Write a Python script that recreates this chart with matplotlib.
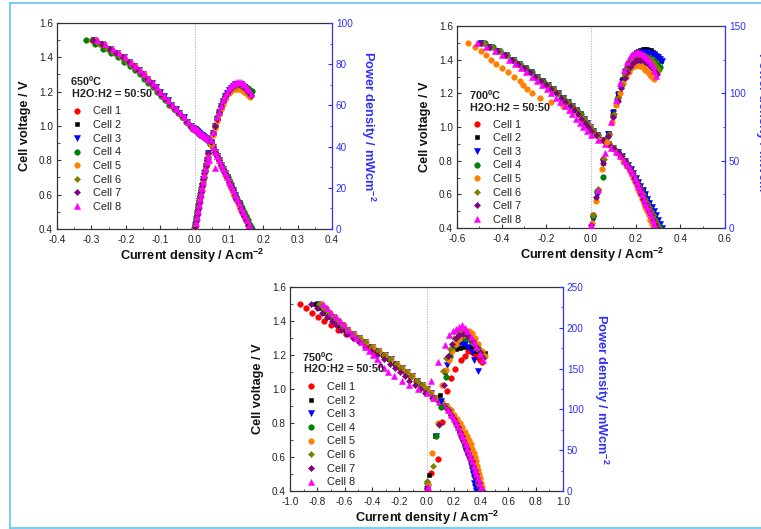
import matplotlib
matplotlib.use("Agg")
import matplotlib.pyplot as plt
from matplotlib.lines import Line2D
from matplotlib.ticker import MultipleLocator, FormatStrFormatter

plt.rcParams['font.family'] = ['Liberation Sans', 'DejaVu Sans']
plt.rcParams['axes.unicode_minus'] = False
plt.rcParams['mathtext.fontset'] = 'custom'
plt.rcParams['mathtext.rm'] = 'Liberation Sans'
plt.rcParams['mathtext.bf'] = 'Liberation Sans:bold'

# --- data -------------------------------------------------------------------
cells = ['Cell 1', 'Cell 2', 'Cell 3', 'Cell 4', 'Cell 5', 'Cell 6', 'Cell 7', 'Cell 8']

# 650 C : voltage sweep (V) and current density (A/cm2) per cell
volt_650 = [1.500, 1.475, 1.450, 1.425, 1.400, 1.375, 1.350, 1.325, 1.300, 1.275,
            1.250, 1.225, 1.200, 1.175, 1.150, 1.125, 1.100, 1.075, 1.050, 1.025,
            1.000, 0.990, 0.985, 0.980, 0.975, 0.970, 0.965, 0.960, 0.955, 0.950,
            0.945, 0.940, 0.935, 0.930, 0.925, 0.920, 0.900, 0.875, 0.850, 0.825,
            0.800, 0.775, 0.750, 0.725, 0.700, 0.675, 0.650, 0.625, 0.600, 0.575,
            0.550, 0.525, 0.500, 0.475, 0.450, 0.425, 0.400]

cur_650 = [
    [-0.298, -0.273, -0.250, -0.229, -0.210, -0.194, -0.179, -0.165, -0.151, -0.139,
     -0.127, -0.115, -0.103, -0.091, -0.080, -0.068, -0.057, -0.045, -0.034, -0.022,
     -0.011, -0.006, -0.002, 0.002, 0.005, 0.008, 0.011, 0.014, 0.017, 0.020,
     0.023, 0.026, 0.030, 0.033, 0.037, 0.040, 0.047, 0.053, 0.059, 0.065,
     0.071, 0.077, 0.083, 0.088, 0.094, 0.099, 0.105, 0.111, 0.116, 0.122,
     0.128, 0.133, 0.139, 0.145, 0.150, 0.156, 0.162],
    [-0.296, -0.271, -0.248, -0.228, -0.209, -0.193, -0.178, -0.164, -0.151, -0.139,
     -0.126, -0.114, -0.102, -0.091, -0.079, -0.068, -0.056, -0.045, -0.033, -0.022,
     -0.011, -0.006, -0.002, 0.001, 0.004, 0.007, 0.010, 0.013, 0.016, 0.019,
     0.022, 0.026, 0.029, 0.033, 0.036, 0.040, 0.047, 0.053, 0.059, 0.065,
     0.071, 0.077, 0.083, 0.089, 0.094, 0.100, 0.105, 0.111, 0.117, 0.122,
     0.128, 0.134, 0.140, 0.146, 0.152, 0.158, 0.164],
    [-0.293, -0.268, -0.245, -0.225, -0.206, -0.190, -0.175, -0.162, -0.149, -0.137,
     -0.125, -0.113, -0.101, -0.090, -0.078, -0.067, -0.055, -0.044, -0.032, -0.021,
     -0.010, -0.005, -0.001, 0.002, 0.005, 0.008, 0.011, 0.014, 0.017, 0.020,
     0.022, 0.026, 0.029, 0.033, 0.036, 0.040, 0.047, 0.053, 0.059, 0.065,
     0.071, 0.077, 0.083, 0.089, 0.094, 0.100, 0.105, 0.111, 0.117, 0.122,
     0.128, 0.134, 0.139, 0.145, 0.151, 0.157, 0.163],
    [-0.315, -0.290, -0.266, -0.244, -0.222, -0.205, -0.189, -0.174, -0.160, -0.147,
     -0.134, -0.121, -0.109, -0.097, -0.085, -0.073, -0.061, -0.049, -0.037, -0.025,
     -0.013, -0.008, -0.004, -0.001, 0.002, 0.005, 0.008, 0.011, 0.014, 0.017,
     0.020, 0.024, 0.027, 0.031, 0.034, 0.038, 0.046, 0.053, 0.059, 0.066,
     0.072, 0.078, 0.084, 0.090, 0.096, 0.102, 0.107, 0.113, 0.119, 0.125,
     0.131, 0.137, 0.143, 0.149, 0.155, 0.161, 0.168],
    [-0.288, -0.264, -0.242, -0.222, -0.204, -0.189, -0.174, -0.161, -0.148, -0.136,
     -0.126, -0.114, -0.102, -0.091, -0.079, -0.068, -0.056, -0.045, -0.033, -0.022,
     -0.011, -0.006, -0.002, 0.001, 0.004, 0.007, 0.010, 0.013, 0.016, 0.019,
     0.022, 0.026, 0.029, 0.033, 0.036, 0.040, 0.047, 0.053, 0.059, 0.065,
     0.070, 0.076, 0.082, 0.088, 0.093, 0.099, 0.104, 0.110, 0.115, 0.121,
     0.126, 0.132, 0.137, 0.143, 0.149, 0.155, 0.161],
    [-0.302, -0.277, -0.254, -0.233, -0.213, -0.197, -0.182, -0.168, -0.154, -0.142,
     -0.129, -0.117, -0.105, -0.093, -0.081, -0.070, -0.058, -0.046, -0.034, -0.023,
     -0.011, -0.006, -0.002, 0.001, 0.004, 0.007, 0.010, 0.013, 0.016, 0.019,
     0.022, 0.026, 0.029, 0.033, 0.036, 0.040, 0.047, 0.053, 0.059, 0.065,
     0.071, 0.077, 0.083, 0.089, 0.094, 0.100, 0.105, 0.111, 0.117, 0.122,
     0.128, 0.134, 0.139, 0.145, 0.151, 0.157, 0.163],
    [-0.295, -0.270, -0.247, -0.227, -0.208, -0.192, -0.177, -0.163, -0.150, -0.138,
     -0.126, -0.114, -0.102, -0.091, -0.079, -0.068, -0.056, -0.045, -0.033, -0.022,
     -0.011, -0.006, -0.002, 0.001, 0.004, 0.007, 0.010, 0.013, 0.016, 0.019,
     0.022, 0.026, 0.029, 0.033, 0.036, 0.040, 0.047, 0.053, 0.059, 0.065,
     0.071, 0.077, 0.083, 0.089, 0.094, 0.100, 0.105, 0.111, 0.117, 0.122,
     0.128, 0.134, 0.139, 0.145, 0.151, 0.157, 0.163],
    [-0.284, -0.260, -0.238, -0.219, -0.201, -0.186, -0.172, -0.159, -0.146, -0.134,
     -0.122, -0.110, -0.099, -0.088, -0.076, -0.065, -0.053, -0.042, -0.030, -0.019,
     -0.008, -0.003, 0.001, 0.003, 0.006, 0.009, 0.012, 0.015, 0.018, 0.021,
     0.024, 0.028, 0.031, 0.035, 0.038, 0.042, 0.048, 0.054, 0.060, 0.066,
     0.071, 0.077, 0.083, 0.089, 0.095, 0.101, 0.106, 0.112, 0.118, 0.124,
     0.129, 0.135, 0.141, 0.147, 0.152, 0.158, 0.164],
]

# power density (mW/cm2) of the last points of each sweep
pow_650 = [
    [2.0, 4.9, 7.8, 10.6, 13.4, 16.2, 19.0,
     21.7, 24.4, 28.1, 30.7, 34.2, 36.8, 42.3, 46.4, 50.2, 53.6,
     56.8, 59.7, 62.3, 63.8, 65.8, 66.8, 68.3, 69.4, 69.6, 70.2,
     70.4, 69.8, 69.5, 68.9, 67.5, 66.3, 64.8],
    [1.0, 3.9, 6.8, 9.7, 12.5, 15.3, 18.1,
     20.8, 24.4, 27.1, 30.7, 33.3, 36.8, 42.3, 46.4, 50.2, 53.6,
     56.8, 59.7, 62.3, 64.5, 65.8, 67.5, 68.3, 69.4, 70.2, 70.2,
     70.4, 70.4, 70.0, 69.4, 68.4, 67.2, 65.6],
    [2.0, 4.9, 7.8, 10.6, 13.4, 16.2, 19.0,
     20.8, 24.4, 27.1, 30.7, 33.3, 36.8, 42.3, 46.4, 50.2, 53.6,
     56.8, 59.7, 62.3, 64.5, 65.8, 67.5, 68.3, 69.4, 70.2, 70.2,
     70.4, 70.4, 69.5, 68.9, 68.0, 66.7, 65.2],
    [0.5, 2.0, 4.9, 7.7, 10.6, 13.4, 16.2,
     18.9, 22.6, 25.2, 28.8, 31.5, 35.0, 41.4, 46.4, 50.2, 54.5,
     57.0, 59.8, 62.3, 64.5, 66.2, 67.6, 68.4, 69.2, 69.7, 70.0,
     70.1, 70.0, 69.6, 69.0, 68.3, 67.6, 67.0],
    [1.0, 3.9, 6.8, 9.6, 12.4, 15.1, 17.9,
     20.6, 24.0, 26.8, 30.2, 32.9, 36.3, 41.5, 45.5, 49.2, 52.5,
     55.6, 58.4, 60.9, 63.0, 64.4, 65.8, 66.7, 67.4, 67.9, 68.1,
     68.1, 67.9, 67.4, 66.7, 65.8, 64.9, 64.0],
    [1.0, 3.9, 6.8, 9.7, 12.5, 15.3, 18.1,
     20.8, 24.4, 27.1, 30.7, 33.3, 36.8, 42.3, 46.4, 50.2, 53.6,
     56.5, 59.4, 61.9, 64.0, 65.4, 66.9, 67.8, 68.8, 69.4, 69.6,
     69.7, 69.6, 69.0, 68.4, 67.4, 66.2, 64.8],
    [1.0, 3.9, 6.8, 9.7, 12.5, 15.3, 18.1,
     20.8, 24.4, 27.1, 30.7, 33.3, 36.8, 42.3, 46.4, 50.2, 53.6,
     56.8, 59.7, 62.3, 64.5, 65.8, 67.5, 68.3, 69.4, 70.2, 70.2,
     70.4, 70.4, 69.5, 68.9, 68.0, 66.7, 65.2],
    [2.9, 5.9, 8.7, 11.6, 14.4, 17.2, 20.0,
     22.7, 26.3, 29.0, 32.6, 35.2, 33.5, 43.2, 47.3, 29.5, 54.5,
     57.0, 59.8, 62.4, 64.8, 66.6, 68.4, 69.2, 70.3, 71.0, 71.4,
     71.5, 71.3, 70.6, 69.9, 68.5, 67.3, 65.6],
]

# 700 C
volt_700 = [1.500, 1.475, 1.450, 1.425, 1.400, 1.375, 1.350, 1.325, 1.300, 1.275,
            1.250, 1.225, 1.200, 1.175, 1.150, 1.125, 1.100, 1.075, 1.050, 1.025,
            1.000, 0.975, 0.950, 0.925, 0.900, 0.875, 0.850, 0.825, 0.800, 0.775,
            0.750, 0.725, 0.700, 0.675, 0.650, 0.625, 0.600, 0.575, 0.550, 0.525,
            0.500, 0.475, 0.450, 0.425, 0.400]

cur_700 = [
    [-0.490, -0.452, -0.415, -0.381, -0.350, -0.322, -0.295, -0.268, -0.242, -0.217,
     -0.193, -0.170, -0.147, -0.125, -0.104, -0.084, -0.065, -0.048, -0.032, -0.017,
     -0.003, 0.010, 0.030, 0.055, 0.079, 0.100, 0.119, 0.136, 0.150, 0.162,
     0.173, 0.184, 0.194, 0.203, 0.211, 0.219, 0.227, 0.235, 0.243, 0.251,
     0.260, 0.269, 0.278, 0.289, 0.300],
    [-0.500, -0.460, -0.422, -0.386, -0.354, -0.325, -0.298, -0.271, -0.245, -0.220,
     -0.196, -0.172, -0.149, -0.127, -0.106, -0.086, -0.067, -0.050, -0.034, -0.019,
     -0.005, 0.008, 0.022, 0.052, 0.078, 0.100, 0.120, 0.138, 0.153, 0.166,
     0.178, 0.190, 0.201, 0.211, 0.221, 0.231, 0.241, 0.251, 0.260, 0.269,
     0.278, 0.287, 0.296, 0.305, 0.314],
    [-0.492, -0.453, -0.416, -0.382, -0.351, -0.323, -0.296, -0.269, -0.243, -0.218,
     -0.194, -0.170, -0.147, -0.125, -0.104, -0.084, -0.065, -0.048, -0.032, -0.017,
     -0.004, 0.007, 0.026, 0.053, 0.078, 0.099, 0.119, 0.137, 0.152, 0.165,
     0.177, 0.189, 0.200, 0.210, 0.220, 0.231, 0.241, 0.251, 0.261, 0.271,
     0.281, 0.291, 0.300, 0.308, 0.316],
    [-0.474, -0.440, -0.406, -0.374, -0.345, -0.318, -0.292, -0.266, -0.240, -0.216,
     -0.192, -0.169, -0.146, -0.124, -0.103, -0.083, -0.064, -0.047, -0.031, -0.017,
     -0.003, 0.009, 0.029, 0.052, 0.078, 0.099, 0.118, 0.135, 0.150, 0.162,
     0.173, 0.184, 0.194, 0.203, 0.212, 0.221, 0.230, 0.239, 0.248, 0.257,
     0.266, 0.276, 0.286, 0.297, 0.308],
    [-0.549, -0.520, -0.492, -0.470, -0.449, -0.425, -0.400, -0.372, -0.345, -0.320,
     -0.303, -0.287, -0.262, -0.228, -0.178, -0.125, -0.085, -0.058, -0.038, -0.021,
     -0.006, 0.004, 0.022, 0.048, 0.072, 0.094, 0.113, 0.130, 0.145, 0.157,
     0.168, 0.178, 0.188, 0.196, 0.204, 0.212, 0.220, 0.228, 0.236, 0.244,
     0.252, 0.259, 0.266, 0.273, 0.280],
    [-0.480, -0.444, -0.409, -0.376, -0.347, -0.320, -0.294, -0.268, -0.242, -0.218,
     -0.194, -0.171, -0.148, -0.126, -0.105, -0.085, -0.066, -0.049, -0.033, -0.018,
     -0.004, 0.010, 0.031, 0.060, 0.082, 0.102, 0.121, 0.138, 0.152, 0.164,
     0.175, 0.186, 0.196, 0.205, 0.214, 0.223, 0.232, 0.241, 0.250, 0.259,
     0.268, 0.277, 0.286, 0.295, 0.305],
    [-0.498, -0.458, -0.420, -0.385, -0.354, -0.326, -0.300, -0.274, -0.249, -0.225,
     -0.202, -0.179, -0.157, -0.136, -0.115, -0.095, -0.076, -0.059, -0.043, -0.028,
     -0.013, 0.002, 0.024, 0.052, 0.078, 0.100, 0.119, 0.136, 0.150, 0.162,
     0.173, 0.184, 0.194, 0.202, 0.210, 0.218, 0.226, 0.234, 0.242, 0.250,
     0.258, 0.267, 0.276, 0.285, 0.295],
    [-0.512, -0.470, -0.432, -0.397, -0.367, -0.340, -0.314, -0.289, -0.265, -0.242,
     -0.220, -0.198, -0.177, -0.157, -0.137, -0.118, -0.100, -0.083, -0.067, -0.051,
     -0.035, -0.018, 0.002, 0.030, 0.062, 0.090, 0.112, 0.132, 0.148, 0.162,
     0.174, 0.185, 0.195, 0.204, 0.212, 0.220, 0.228, 0.236, 0.244, 0.252,
     0.260, 0.268, 0.276, 0.283, 0.290],
]

pow_700 = [
    [9.8, 28.5, 51.0, 70.0, 85.0, 97.5, 107.0, 114.0, 119.5, 123.0, 125.5, 127.0,
     128.0, 128.5, 129.0, 129.0, 128.5, 128.0, 127.0, 126.0, 124.5, 122.5, 120.0, 117.0],
    [7.8, 21.0, 48.0, 70.5, 87.0, 100.5, 110.5, 117.5, 122.5, 126.0, 128.5, 130.5,
     131.5, 132.5, 133.0, 133.0, 133.0, 132.5, 132.0, 131.0, 129.5, 128.0, 126.0, 124.0],
    [6.8, 24.7, 49.0, 70.0, 85.5, 99.0, 108.5, 116.0, 121.0, 124.5, 127.0, 128.5,
     129.5, 130.0, 130.5, 130.5, 130.5, 130.0, 129.5, 129.0, 128.0, 127.0, 125.5, 124.0],
    [8.8, 27.5, 38.0, 68.0, 83.0, 95.5, 105.5, 113.0, 118.0, 121.5, 124.0, 125.5,
     126.5, 127.5, 128.0, 128.0, 128.0, 127.5, 127.0, 126.0, 125.0, 123.5, 121.5, 119.5],
    [3.9, 20.0, 44.0, 64.0, 79.0, 91.0, 100.5, 107.5, 112.5, 116.0, 118.5, 120.0,
     120.5, 121.0, 121.0, 120.5, 120.0, 119.0, 117.5, 116.5, 115.0, 113.5, 112.0, 110.5],
    [9.8, 29.0, 51.5, 70.0, 84.5, 96.5, 106.0, 113.0, 118.0, 121.5, 124.0, 125.5,
     126.5, 127.0, 127.5, 127.5, 127.0, 126.5, 125.5, 124.5, 123.0, 121.0, 119.0, 117.0],
    [2.0, 22.8, 48.0, 68.0, 82.5, 94.5, 104.0, 111.5, 116.0, 119.5, 122.0, 123.5,
     124.5, 125.0, 125.0, 125.0, 124.5, 123.5, 122.5, 121.0, 119.5, 118.0, 116.0, 114.0],
    [2.0, 28.5, 56.0, 79.0, 95.0, 108.0, 117.0, 123.0, 127.0, 129.0, 130.0, 130.5,
     130.5, 130.0, 129.5, 128.5, 127.5, 126.0, 124.5, 122.5, 120.0, 116.5, 113.0],
]

# 750 C
volt_750 = volt_700

cur_750 = [
    [-0.925, -0.880, -0.840, -0.795, -0.750, -0.700, -0.645, -0.590, -0.530, -0.475,
     -0.420, -0.370, -0.322, -0.277, -0.234, -0.193, -0.155, -0.118, -0.080, -0.040,
     -0.008, 0.024, 0.060, 0.097, 0.134, 0.158, 0.179, 0.198, 0.215, 0.230,
     0.243, 0.256, 0.269, 0.281, 0.293, 0.305, 0.317, 0.329, 0.340, 0.350,
     0.360, 0.370, 0.380, 0.392, 0.408],
    [-0.820, -0.790, -0.755, -0.718, -0.680, -0.640, -0.598, -0.552, -0.505, -0.458,
     -0.410, -0.363, -0.316, -0.272, -0.230, -0.189, -0.151, -0.113, -0.074, -0.033,
     -0.002, 0.030, 0.070, 0.106, 0.140, 0.163, 0.182, 0.200, 0.217, 0.231,
     0.244, 0.257, 0.270, 0.282, 0.294, 0.306, 0.318, 0.330, 0.341, 0.351,
     0.361, 0.371, 0.381, 0.392, 0.410],
    [-0.795, -0.760, -0.724, -0.688, -0.654, -0.620, -0.584, -0.540, -0.494, -0.447,
     -0.400, -0.353, -0.306, -0.263, -0.221, -0.181, -0.144, -0.107, -0.070, -0.031,
     0.000, 0.030, 0.066, 0.102, 0.137, 0.160, 0.179, 0.196, 0.212, 0.226,
     0.238, 0.250, 0.262, 0.274, 0.285, 0.296, 0.307, 0.317, 0.326, 0.334,
     0.340, 0.346, 0.351, 0.356, 0.360],
    [-0.784, -0.752, -0.718, -0.684, -0.651, -0.617, -0.581, -0.538, -0.493, -0.447,
     -0.401, -0.355, -0.309, -0.266, -0.225, -0.184, -0.147, -0.110, -0.072, -0.033,
     -0.003, 0.028, 0.066, 0.103, 0.140, 0.164, 0.184, 0.202, 0.219, 0.233,
     0.246, 0.259, 0.272, 0.284, 0.296, 0.308, 0.320, 0.332, 0.343, 0.353,
     0.362, 0.371, 0.380, 0.391, 0.408],
    [-0.770, -0.738, -0.705, -0.672, -0.640, -0.607, -0.572, -0.530, -0.485, -0.440,
     -0.394, -0.348, -0.302, -0.259, -0.218, -0.178, -0.141, -0.104, -0.066, -0.027,
     0.003, 0.035, 0.075, 0.115, 0.150, 0.178, 0.202, 0.224, 0.244, 0.262,
     0.279, 0.296, 0.312, 0.325, 0.336, 0.346, 0.355, 0.364, 0.372, 0.379,
     0.386, 0.392, 0.398, 0.404, 0.410],
    [-0.790, -0.757, -0.722, -0.688, -0.655, -0.621, -0.585, -0.541, -0.496, -0.450,
     -0.403, -0.357, -0.310, -0.267, -0.225, -0.185, -0.148, -0.111, -0.073, -0.034,
     -0.004, 0.027, 0.065, 0.102, 0.139, 0.163, 0.183, 0.201, 0.218, 0.232,
     0.245, 0.258, 0.271, 0.283, 0.295, 0.307, 0.319, 0.331, 0.342, 0.352,
     0.361, 0.370, 0.379, 0.390, 0.407],
    [-0.845, -0.800, -0.765, -0.730, -0.695, -0.660, -0.625, -0.585, -0.540, -0.495,
     -0.450, -0.405, -0.360, -0.315, -0.270, -0.230, -0.195, -0.160, -0.125, -0.085,
     -0.050, -0.010, 0.040, 0.090, 0.130, 0.158, 0.180, 0.199, 0.216, 0.231,
     0.245, 0.258, 0.271, 0.283, 0.295, 0.307, 0.319, 0.331, 0.342, 0.352,
     0.362, 0.372, 0.382, 0.395, 0.415],
    [-0.760, -0.728, -0.697, -0.666, -0.636, -0.606, -0.576, -0.545, -0.514, -0.482,
     -0.450, -0.420, -0.392, -0.366, -0.340, -0.310, -0.280, -0.240, -0.180, -0.125,
     -0.060, 0.000, 0.045, 0.090, 0.130, 0.158, 0.181, 0.201, 0.219, 0.234,
     0.248, 0.261, 0.274, 0.286, 0.298, 0.310, 0.322, 0.334, 0.345, 0.355,
     0.365, 0.375, 0.385, 0.397, 0.415],
]

# at 750 C the power points were logged on their own current values
pcur_750 = [
    [0.004, 0.034, 0.083, 0.115, 0.150, 0.176, 0.212, 0.254, 0.280, 0.303, 0.330, 0.355, 0.375, 0.393, 0.410],
    [0.004, 0.017, 0.059, 0.100, 0.132, 0.181, 0.215, 0.242, 0.265, 0.285, 0.305, 0.325, 0.345, 0.364, 0.385, 0.405, 0.425],
    [0.004, 0.011, 0.067, 0.105, 0.149, 0.190, 0.210, 0.235, 0.260, 0.282, 0.305, 0.330, 0.350, 0.376],
    [0.006, 0.067, 0.107, 0.140, 0.170, 0.200, 0.225, 0.250, 0.275, 0.300, 0.325, 0.350, 0.375, 0.400, 0.415],
    [0.008, 0.039, 0.083, 0.112, 0.140, 0.163, 0.190, 0.215, 0.240, 0.265, 0.290, 0.310, 0.330, 0.355, 0.380, 0.405, 0.425],
    [0.006, 0.050, 0.090, 0.119, 0.145, 0.172, 0.200, 0.220, 0.240, 0.260, 0.285, 0.310, 0.335, 0.360, 0.385, 0.410],
    [0.003, 0.090, 0.125, 0.160, 0.190, 0.215, 0.240, 0.265, 0.290, 0.315, 0.340, 0.365, 0.390, 0.415],
    [0.010, 0.034, 0.083, 0.132, 0.168, 0.193, 0.215, 0.240, 0.261, 0.280, 0.300, 0.327, 0.350, 0.364, 0.390, 0.413],
]
pow_750 = [
    [3, 22, 39, 84, 122, 138, 150, 160, 166, 171, 170, 167, 164, 161, 158],
    [4, 20, 67, 118, 146, 172, 174, 175, 177, 178, 177, 176, 174, 172, 171, 170, 169],
    [2, 5, 67, 110, 154, 172, 178, 180, 181, 180, 177, 170, 160, 147],
    [10, 67, 103, 140, 165, 178, 184, 187, 188, 187, 184, 180, 175, 170, 167],
    [8, 47, 83, 130, 148, 160, 172, 180, 186, 191, 195, 196, 194, 188, 180, 172, 166],
    [12, 31, 81, 147, 163, 174, 188, 195, 197, 196, 193, 189, 184, 178, 172, 167],
    [4, 82, 130, 165, 180, 187, 191, 193, 192, 189, 184, 177, 170, 163],
    [5, 135, 158, 179, 191, 196, 199, 201, 203, 200, 196, 189, 182, 177, 168, 160],
]

# --- styling ----------------------------------------------------------------
colors = ['#ff0000', '#000000', '#0000ff', '#008000', '#ff8000', '#808000', '#800080', '#ff00ff']
markers = ['o', 's', 'v', 'o', 'o', 'D', 'D', '^']
msizes = [4.0, 3.4, 4.4, 4.0, 4.0, 3.1, 3.1, 4.4]
BLUE = '#2f2fff'
W, H = 761, 529

fig = plt.figure(figsize=(W / 100, H / 100), dpi=100)
fig.patch.set_facecolor('white')


def fx(x):
    return x / W


def fy(y):
    return 1 - y / H


def draw_panel(box, volt, cur, pw, pcur, xlim, xmaj, pmax, pmaj, temp, txt_xy, leg_xy, lab_xy):
    left, top, right, bottom = box
    ax = fig.add_axes([fx(left), fy(bottom), fx(right - left), (bottom - top) / H])
    ax2 = ax.twinx()

    ax.axvline(0, color='#b4b4b4', lw=0.8, ls=(0, (1, 1.3)), zorder=0)
    handles = []
    for k in range(8):
        h, = ax.plot(cur[k], volt, ls='none', marker=markers[k], ms=msizes[k],
                     color=colors[k], mec=colors[k], mew=0.4)
        handles.append(h)
        px = pcur[k] if pcur is not None else cur[k][-len(pw[k]):]
        ax2.plot(px, pw[k], ls='none', marker=markers[k], ms=msizes[k],
                 color=colors[k], mec=colors[k], mew=0.4)

    ax.set_xlim(*xlim)
    ax.set_ylim(0.4, 1.6)
    ax2.set_ylim(0, pmax)
    ax.xaxis.set_major_locator(MultipleLocator(xmaj))
    ax.xaxis.set_minor_locator(MultipleLocator(xmaj / 2))
    ax.xaxis.set_major_formatter(FormatStrFormatter('%.1f'))
    ax.yaxis.set_major_locator(MultipleLocator(0.2))
    ax.yaxis.set_minor_locator(MultipleLocator(0.1))
    ax.yaxis.set_major_formatter(FormatStrFormatter('%.1f'))
    ax2.yaxis.set_major_locator(MultipleLocator(pmaj))
    ax2.yaxis.set_minor_locator(MultipleLocator(pmaj / 2))

    ax.tick_params(which='both', direction='in', top=False, right=False,
                   colors='#333333', labelcolor='#222222')
    ax.tick_params(which='major', length=3.2, width=0.8, labelsize=7.2)
    ax.tick_params(which='minor', length=1.8, width=0.6)
    ax.tick_params(axis='x', which='major', pad=4.2)
    ax.tick_params(axis='y', which='major', pad=3.0)
    ax2.tick_params(which='both', direction='in', colors=BLUE, labelcolor=BLUE)
    ax2.tick_params(which='major', length=3.2, width=0.8, labelsize=7.2, pad=2.8)
    ax2.tick_params(which='minor', length=1.8, width=0.6)

    for s in ['left', 'top', 'bottom']:
        ax.spines[s].set_color('#333333')
        ax.spines[s].set_linewidth(0.9)
        ax2.spines[s].set_visible(False)
    ax.spines['right'].set_visible(False)
    ax2.spines['right'].set_color(BLUE)
    ax2.spines['right'].set_linewidth(0.9)

    # condition text
    fig.text(fx(txt_xy[0]), fy(txt_xy[1]), temp + r'$^{\mathbf{0}}$C', fontsize=7.8,
             fontweight='bold', ha='left', va='center', color='#222222')
    fig.text(fx(txt_xy[0] + 1.5), fy(txt_xy[1] + 12.5), 'H2O:H2 = 50:50', fontsize=7.8,
             fontweight='bold', ha='left', va='center', color='#222222')

    ax2.legend(handles, cells, loc='upper left', bbox_to_anchor=(fx(leg_xy[0]), fy(leg_xy[1])),
               bbox_transform=fig.transFigure, frameon=False, fontsize=7.9,
               handlelength=1.0, handletextpad=0.95, labelspacing=0.33,
               borderpad=0, borderaxespad=0, numpoints=1, labelcolor='#222222')

    ylx, xlx, xly, plx = lab_xy
    cy = (top + bottom) / 2
    fig.text(fx(ylx), fy(cy), 'Cell voltage / V', rotation=90, fontsize=9.2,
             fontweight='bold', ha='center', va='center', color='#111111')
    fig.text(fx(xlx), fy(xly), r'Current density / Acm$^{\mathbf{-2}}$', fontsize=9.2,
             fontweight='bold', ha='center', va='center', color='#111111')
    fig.text(fx(plx), fy(cy), r'Power density / mWcm$^{\mathbf{-2}}$', rotation=270,
             fontsize=9.2, fontweight='bold', ha='center', va='center', color=BLUE)


draw_panel((57, 23, 332, 229), volt_650, cur_650, pow_650, None, (-0.4, 0.4), 0.1, 100, 20,
           '650', (70, 81.5), (71.6, 106.5), (25, 192, 256, 368))
draw_panel((457, 26, 725, 228), volt_700, cur_700, pow_700, None, (-0.6, 0.6), 0.2, 150, 50,
           '700', (469, 95.5), (471.3, 119.5), (425, 592, 255, 762))
draw_panel((290, 287, 563, 491), volt_750, cur_750, pow_750, pcur_750, (-1.0, 1.0), 0.2, 250, 50,
           '750', (302.5, 357), (305.6, 382), (258, 427, 518, 601))

# light blue frame of the original screenshot
frame = '#62c6f2'
fig.add_artist(Line2D([fx(9.5), 1], [fy(2.7), fy(2.7)], color=frame, lw=1.2))
fig.add_artist(Line2D([fx(9.5), fx(9.5)], [fy(2.7), fy(527.5)], color=frame, lw=1.2))
fig.add_artist(Line2D([fx(9.5), 1], [fy(527.5), fy(527.5)], color=frame, lw=1.2))

fig.savefig('out.png', dpi=100, facecolor='white')
